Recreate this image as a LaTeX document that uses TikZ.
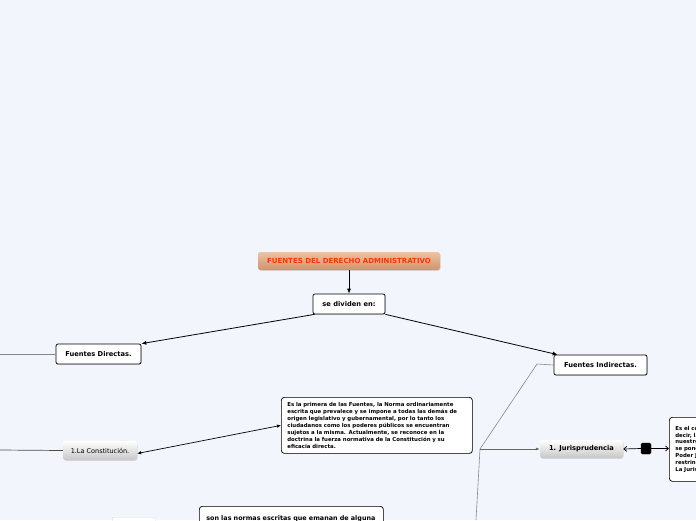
\documentclass[tikz,border=0pt]{standalone}
\usepackage{fontspec}
\setmainfont{DejaVu Sans}
\usetikzlibrary{arrows.meta,shadows}
\definecolor{bgc}{HTML}{F3F5FD}
\definecolor{titletxt}{HTML}{FF3300}
\definecolor{titletop}{HTML}{EDC3A3}
\definecolor{titlebot}{HTML}{CC9370}
\definecolor{linegray}{HTML}{888888}
\tikzset{
  box/.style={draw=black, fill=white, rounded corners=2pt, line width=0.7pt, font=\bfseries\fontsize{6.7}{7.5}\selectfont, inner sep=2pt, align=center, drop shadow={shadow xshift=0.6pt, shadow yshift=-0.6pt, opacity=0.35}},
  textbox/.style={draw=black, fill=white, rounded corners=3pt, line width=0.7pt, font=\bfseries\fontsize{5.4}{6.9}\selectfont, inner sep=0pt, align=left, drop shadow={shadow xshift=0.6pt, shadow yshift=-0.6pt, opacity=0.35}},
  graybox/.style={draw=none, rounded corners=2.5pt, top color=white, bottom color=black!22, font=\fontsize{6.5}{7.5}\selectfont, inner sep=2pt, drop shadow={shadow xshift=0.5pt, shadow yshift=-0.8pt, opacity=0.25}},
  titlebox/.style={draw=none, rounded corners=2.5pt, top color=titletop, bottom color=titlebot, font=\bfseries\fontsize{7}{8}\selectfont, text=titletxt, inner sep=2pt, drop shadow={shadow xshift=0.5pt, shadow yshift=-0.8pt, opacity=0.25}},
  conn/.style={line width=0.8pt, -{Latex[length=5pt,width=4pt]}},
  glink/.style={draw=linegray, line width=0.6pt},
}
\begin{document}
\begin{tikzpicture}[x=1pt,y=-1pt]
\useasboundingbox[fill=bgc] (0,0) rectangle (696,520);
% nodes
\node[titlebox, minimum width=182pt, minimum height=18pt] (title) at (349,261) {FUENTES DEL DERECHO ADMINISTRATIVO};
\node[box, minimum width=72pt, minimum height=20pt] (sd) at (349,304) {se dividen en:};
\node[box, minimum width=85pt, minimum height=20pt] (fd) at (98.5,354) {Fuentes Directas.};
\node[box, minimum width=93pt, minimum height=20pt] (fi) at (600.5,365) {Fuentes Indirectas.};
\node[textbox, anchor=north west, minimum width=191pt, minimum height=56pt, text width=179pt, inner xsep=6pt, inner ysep=5pt] (big) at (281,397) {Es la primera de las Fuentes, la Norma ordinariamente\\escrita que prevalece y se impone a todas las demás de\\origen legislativo y gubernamental, por lo tanto los\\ciudadanos como los poderes públicos se encuentran\\sujetos a la misma. Actualmente, se reconoce en la\\doctrina la fuerza normativa de la Constitución y su\\eficacia directa.};
\node[graybox, minimum width=74pt, minimum height=19pt] (con) at (100,450.5) {1.La Constitución.};
\node[graybox, minimum width=83pt, minimum height=18pt, font=\bfseries\fontsize{6.7}{7.5}\selectfont] (jur) at (581.5,449) {1. Jurisprudencia};
\node[draw=black, fill=black, rounded corners=1.5pt, minimum width=10pt, minimum height=11pt, inner sep=0pt] (sq) at (646,448.5) {};
\node[textbox, anchor=north west, minimum width=92pt, minimum height=64pt, text width=84pt, inner xsep=6pt, inner ysep=5pt] (rb) at (669,417) {Es el conjunto de\\decir, las sentencias\\nuestros tribunales\\se pone de relieve\\Poder Judicial\\restringido\\La Jurisprudencia};
\node[textbox, anchor=north west, minimum width=183pt, minimum height=24pt, text width=170pt, inner xsep=7pt, inner ysep=5.5pt, font=\bfseries\fontsize{6.4}{7.5}\selectfont] (bb) at (199,506) {son las normas escritas que emanan de alguna};
\node[draw=black!15, fill=white, rounded corners=2pt, anchor=north west, minimum width=43pt, minimum height=20pt] (pb) at (112,517) {};
% connectors
\draw[conn] (title.south) -- (sd.north);
\draw[conn] ([xshift=2pt]sd.south west) -- (fd.north east);
\draw[conn] (sd.south east) -- ([xshift=4pt]fi.north west);
\coordinate (fdl) at (0,354);
\draw[glink] (fdl) -- (fd.west);
\coordinate (fia) at (537,364);
\coordinate (fib) at (480,449);
\coordinate (fic) at (476,520);
\draw[glink] (fi.west) -- (fia) -- (fib) -- (fic);
\draw[draw=black!60, line width=0.7pt, -{Latex[length=4pt,width=3pt]}] (fib) -- (jur.west);
\coordinate (conl) at (0,450);
\draw[draw=black!70, line width=0.7pt] (conl) -- (con.west);
\draw[line width=0.7pt, {Latex[length=4pt,width=3.5pt]}-{Latex[length=4pt,width=3.5pt]}] ([yshift=-3pt]con.east) -- (big.west);
\draw[line width=0.7pt, -{Straight Barb[length=3pt,width=5pt]}] (sq.west) -- (jur.east);
\draw[line width=0.7pt, -{Straight Barb[length=3pt,width=5pt]}] (sq.east) -- (rb.west |- sq.east);
\end{tikzpicture}
\end{document}
